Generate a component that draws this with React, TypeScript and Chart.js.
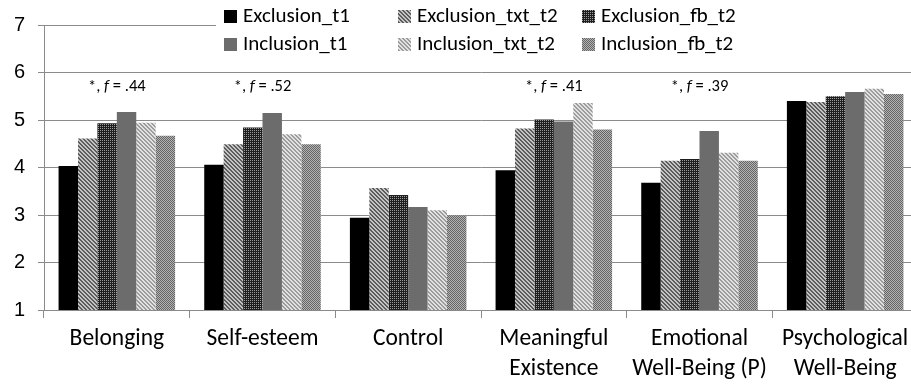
import React, { useEffect, useRef } from "react";
import { Chart, registerables } from "chart.js";

Chart.register(...registerables);

// ---- data ----
const categories: string[][] = [
  ["Belonging"],
  ["Self-esteem"],
  ["Control"],
  ["Meaningful", "Existence"],
  ["Emotional", "Well-Being (P)"],
  ["Psychological", "Well-Being"],
];
const seriesNames = [
  "Exclusion_t1",
  "Exclusion_txt_t2",
  "Exclusion_fb_t2",
  "Inclusion_t1",
  "Inclusion_txt_t2",
  "Inclusion_fb_t2",
];
const exclusionT1 = [4.03, 4.06, 2.94, 3.94, 3.68, 5.4];
const exclusionTxtT2 = [4.61, 4.49, 3.57, 4.82, 4.14, 5.38];
const exclusionFbT2 = [4.93, 4.84, 3.42, 5.01, 4.18, 5.5];
const inclusionT1 = [5.17, 5.15, 3.17, 4.97, 4.77, 5.59];
const inclusionTxtT2 = [4.94, 4.7, 3.1, 5.36, 4.31, 5.66];
const inclusionFbT2 = [4.67, 4.49, 2.99, 4.8, 4.14, 5.55];
const effectSizes = [".44", ".52", "", ".41", ".39", ""];
const yMin = 1;
const yMax = 7;
const yStep = 1;

const CAL = "Carlito, Lato, 'Noto Sans', sans-serif";

function makePattern(size: number, fn: (x: number, y: number) => string) {
  const c = document.createElement("canvas");
  c.width = size;
  c.height = size;
  const g = c.getContext("2d")!;
  for (let y = 0; y < size; y++) {
    for (let x = 0; x < size; x++) {
      g.fillStyle = fn(x, y);
      g.fillRect(x, y, 1, 1);
    }
  }
  return g.createPattern(c, "repeat")!;
}

const legendPlugin = {
  id: "gridLegend",
  afterDatasetsDraw(chart: any) {
    const ctx = chart.ctx;
    const cols = [224, 398, 582];
    const rows = [16, 44];
    ctx.save();
    ctx.fillStyle = "#ffffff";
    ctx.fillRect(216, 0, 700, 58);
    chart.data.datasets.forEach((ds: any, i: number) => {
      const x = cols[i % 3];
      const y = rows[Math.floor(i / 3)];
      ctx.fillStyle = ds.backgroundColor;
      ctx.fillRect(x, y - 6, 13, 13);
      ctx.fillStyle = "#000";
      ctx.font = `21px ${CAL}`;
      ctx.textBaseline = "middle";
      ctx.textAlign = "left";
      ctx.fillText(ds.label, x + 19, y + 1);
    });
    ctx.restore();
  },
};

const annotationPlugin = {
  id: "effectSizes",
  afterDatasetsDraw(chart: any) {
    const ctx = chart.ctx;
    const xs = chart.scales.x;
    ctx.save();
    ctx.fillStyle = "#000";
    ctx.textBaseline = "middle";
    ctx.textAlign = "left";
    const normal = `16.5px ${CAL}`;
    const italic = `italic 16.5px ${CAL}`;
    effectSizes.forEach((v, i) => {
      if (!v) return;
      const parts: [string, string][] = [
        ["*, ", normal],
        ["f", italic],
        [" = " + v, normal],
      ];
      let total = 0;
      parts.forEach(([t, f]) => {
        ctx.font = f;
        total += ctx.measureText(t).width;
      });
      let x = xs.getPixelForValue(i) - total / 2;
      const y = 87;
      parts.forEach(([t, f]) => {
        ctx.font = f;
        ctx.fillText(t, x, y);
        x += ctx.measureText(t).width;
      });
    });
    ctx.restore();
  },
};

export default function App() {
  const ref = useRef<HTMLCanvasElement>(null);
  useEffect(() => {
    const canvas = ref.current!;
    const solidBlack = "#000000";
    const solidGray = "#6c6c6c";
    const excTxt = makePattern(4, (x, y) => (((x - y + 8) % 4) < 2 ? "#5c5c5c" : "#c4c4c4"));
    const excFb = makePattern(4, (x, y) => (x % 2 === 0 && y % 2 === 0 ? "#9c9c9c" : "#1e1e1e"));
    const incTxt = makePattern(4, (x, y) => (((x - y + 8) % 4) < 2 ? "#9c9c9c" : "#e2e2e2"));
    const incFb = makePattern(2, (x, y) => ((x + y) % 2 === 0 ? "#646464" : "#b4b4b4"));
    const values = [exclusionT1, exclusionTxtT2, exclusionFbT2, inclusionT1, inclusionTxtT2, inclusionFbT2];
    const fills = [solidBlack, excTxt, excFb, solidGray, incTxt, incFb];

    const chart = new Chart(canvas, {
      type: "bar",
      data: {
        labels: categories as any,
        datasets: values.map((d, i) => ({
          label: seriesNames[i],
          data: d,
          backgroundColor: fills[i] as any,
          borderWidth: 0,
          categoryPercentage: 0.8,
          barPercentage: 1.0,
        })),
      },
      options: {
        responsive: false,
        animation: false,
        devicePixelRatio: 1,
        layout: { padding: { top: 21, left: 0, right: 0, bottom: 0 } },
        plugins: {
          legend: { display: false },
          tooltip: { enabled: false },
        },
        scales: {
          x: {
            offset: true,
            grid: {
              offset: true,
              drawOnChartArea: false,
              drawTicks: true,
              tickLength: 8,
              color: "#8a8a8a",
            },
            border: { display: true, color: "#8a8a8a" },
            ticks: {
              color: "#000",
              font: { family: CAL, size: 23.5, lineHeight: "30px" as any },
              padding: 6,
              maxRotation: 0,
              autoSkip: false,
            },
            afterFit: (s: any) => {
              s.height = 74;
            },
          },
          y: {
            min: yMin,
            max: yMax,
            grid: { color: "#8a8a8a", tickLength: 6 },
            border: { display: true, color: "#8a8a8a" },
            ticks: {
              stepSize: yStep,
              color: "#000",
              font: { family: "'Liberation Sans', Arial, sans-serif", size: 20 },
              padding: 13,
            },
            afterFit: (s: any) => {
              s.width = 44;
            },
          },
        },
      },
      plugins: [annotationPlugin, legendPlugin],
    });
    return () => chart.destroy();
  }, []);

  return (
    <div
      style={{
        position: "fixed",
        left: 0,
        top: 0,
        width: 911,
        height: 384,
        overflow: "hidden",
        background: "#fff",
      }}
    >
      <canvas ref={ref} width={918} height={384} style={{ display: "block" }} />
    </div>
  );
}
